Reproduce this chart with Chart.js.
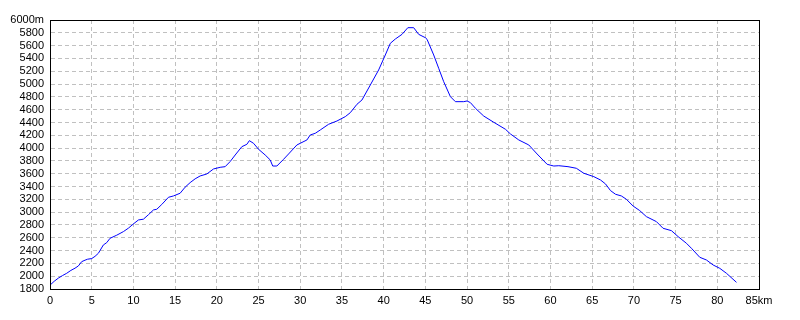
<!DOCTYPE html>
<html>
<head>
<meta charset="utf-8">
<script src="https://cdn.jsdelivr.net/npm/chart.js@4/dist/chart.umd.min.js"></script>
<style>
  body { margin: 0; background: #fff; }
  #wrap { width: 800px; height: 320px; }
</style>
</head>
<body>
<div id="wrap"><canvas id="chart"></canvas></div>
<script>
// distance along the route (km)
const distance = [
  0, 0.5, 1, 1.5, 2, 2.5, 3, 3.4, 3.8, 4.2, 4.5, 5, 5.4, 5.8, 6.4, 6.8, 7.2, 8, 8.8, 9.4,
  10, 10.6, 11.2, 11.8, 12.4, 12.8, 13.4, 14.2, 14.8, 15.6, 16.2, 16.8, 17.4, 18, 18.8, 19.6,
  20.4, 21, 21.6, 22.2, 23, 23.6, 23.9, 24.4, 25, 25.8, 26.4, 26.7, 27.2, 28, 28.6, 29.6,
  30.8, 31.2, 31.8, 32.4, 33.4, 34.4, 35.4, 36, 36.8, 37.4, 38.4, 39.4, 40.2, 40.8, 41.4,
  42.2, 42.9, 43.6, 44.2, 45, 45.2, 46, 46.6, 47.2, 48, 48.6, 49.6, 50, 50.4, 51, 52, 53.2,
  54.6, 55.2, 56.2, 57.4, 58.4, 59.6, 60.4, 61, 62.1, 63.1, 64, 65.2, 66, 66.6, 67.2, 67.8,
  68.5, 69.1, 69.9, 70.7, 71.5, 72.7, 73.5, 74.5, 75.3, 76.3, 76.9, 77.9, 78.7, 79.5, 80.3,
  81.1, 82.3
];

// elevation (m)
const elevation = [
  1860, 1920, 1970, 2010, 2045, 2090, 2125, 2160, 2227, 2250, 2265, 2275, 2310, 2358, 2488, 2524, 2592, 2640, 2696, 2750,
  2816, 2878, 2890, 2960, 3034, 3045, 3120, 3232, 3253, 3295, 3390, 3461, 3520, 3565, 3596, 3674,
  3700, 3710, 3790, 3892, 4022, 4059, 4116, 4075, 3982, 3892, 3815, 3720, 3720, 3825, 3908, 4049,
  4127, 4205, 4231, 4283, 4372, 4423, 4491, 4553, 4684, 4751, 4985, 5220, 5454, 5636, 5703,
  5776, 5880, 5880, 5776, 5724, 5699, 5454, 5246, 5037, 4803, 4725, 4725, 4736, 4710, 4622, 4500, 4403,
  4294, 4221, 4127, 4049, 3908, 3747, 3720, 3725, 3710, 3685, 3607, 3554, 3502, 3440, 3336, 3279,
  3253, 3201, 3096, 3024, 2930, 2852, 2748, 2711, 2618, 2514, 2436, 2295, 2253, 2175, 2123,
  2045, 1904
];

const xMin = 0, xMax = 85, xStep = 5;
const yMin = 1800, yMax = 6000, yStep = 200;

const points = distance.map((d, i) => ({ x: d, y: elevation[i] }));

// black frame round the plot area
const frame = {
  id: 'frame',
  afterDraw(chart) {
    const { ctx, chartArea: a } = chart;
    ctx.save();
    ctx.strokeStyle = '#000';
    ctx.lineWidth = 1;
    ctx.strokeRect(Math.round(a.left) + 0.5, Math.round(a.top) + 0.5,
      Math.round(a.right - a.left), Math.round(a.bottom - a.top));
    ctx.restore();
  }
};

const grid = {
  color: '#c0c0c0',
  lineWidth: 1,
  drawTicks: false
};

new Chart(document.getElementById('chart'), {
  type: 'scatter',
  data: {
    datasets: [{
      data: points,
      showLine: true,
      borderColor: '#0000ff',
      borderWidth: 1,
      pointRadius: 0,
      tension: 0
    }]
  },
  options: {
    responsive: true,
    maintainAspectRatio: false,
    animation: false,
    layout: { padding: { top: 20, right: 41, bottom: 0, left: 0 } },
    plugins: {
      legend: { display: false },
      tooltip: { enabled: false }
    },
    scales: {
      x: {
        type: 'linear',
        min: xMin, max: xMax,
        afterFit(scale) { scale.height = 31; },
        grid: grid,
        border: { color: '#000', dash: [4, 3] },
        ticks: {
          stepSize: xStep,
          autoSkip: false,
          color: '#000',
          padding: 5,
          maxRotation: 0,
          font: { family: 'Liberation Sans', size: 11 },
          callback: v => v === xMax ? v + 'km' : v
        }
      },
      y: {
        min: yMin, max: yMax,
        afterFit(scale) { scale.width = 50; },
        grid: grid,
        border: { color: '#000', dash: [4, 3] },
        ticks: {
          stepSize: yStep,
          autoSkip: false,
          color: '#000',
          padding: 6,
          font: { family: 'Liberation Sans', size: 11, lineHeight: 1 },
          callback: v => v === yMax ? v + 'm' : v
        }
      }
    }
  },
  plugins: [frame]
});
</script>
</body>
</html>
